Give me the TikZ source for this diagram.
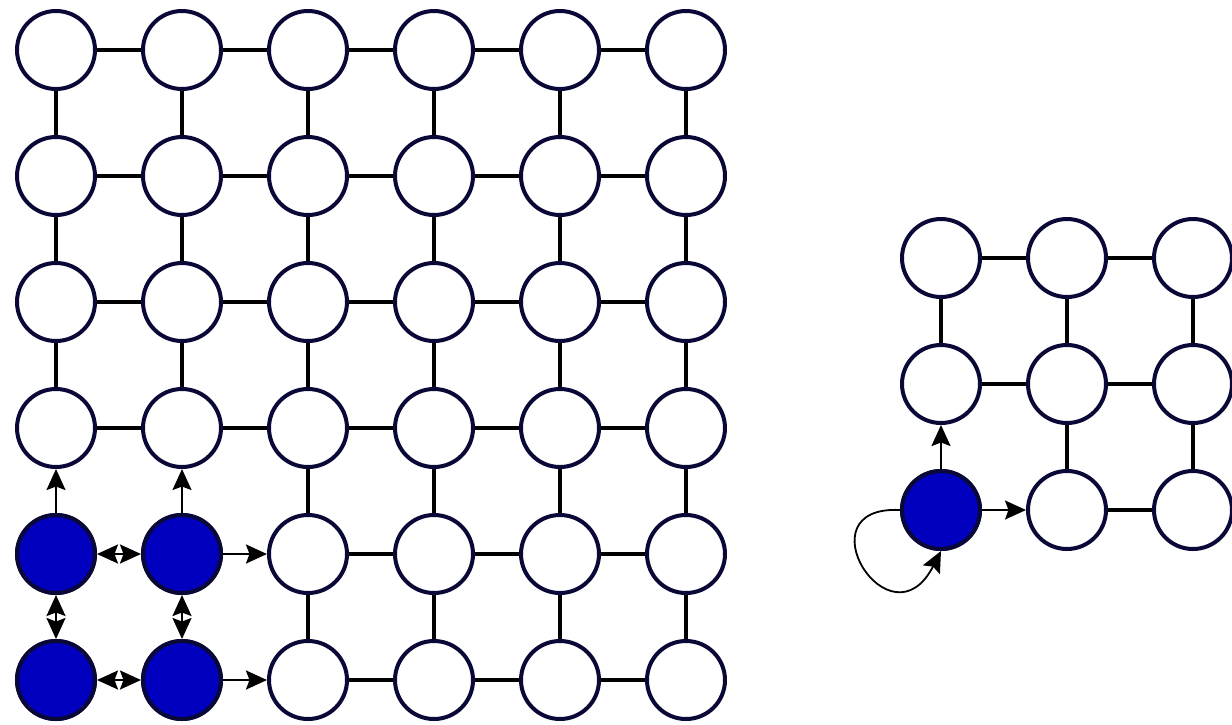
\documentclass[tikz,border=0pt]{standalone}
\usetikzlibrary{arrows.meta}
\definecolor{rim}{RGB}{10,8,55}
\definecolor{bluefill}{RGB}{0,0,190}
\tikzset{
  tip/.tip={Stealth[length=21pt,width=19pt,inset=3.5pt]},
  site/.style={circle,draw=rim,line width=4pt,fill=white,minimum size=78pt,inner sep=0pt},
  hot/.style={site,fill=bluefill},
  bond/.style={line width=3.4pt,black},
  flow/.style={line width=2.2pt,black,-tip},
  both/.style={line width=2.2pt,black,tip-tip},
  loopflow/.style={line width=1.8pt,black,-tip}
}
\begin{document}
\begin{tikzpicture}[x=1pt,y=-1pt]
\useasboundingbox (0,0) rectangle (1232,724);
% left grid nodes
\foreach \c in {0,...,5}{
  \foreach \r in {0,...,5}{
    \node[site] (L-\c-\r) at ({56+126*\c},{50+126*\r}) {};
  }
}
\node[hot] (L-0-4) at (56,554) {};
\node[hot] (L-1-4) at (182,554) {};
\node[hot] (L-0-5) at (56,680) {};
\node[hot] (L-1-5) at (182,680) {};
% left horizontal bonds
\foreach \r in {0,...,3}{
  \foreach \c [evaluate=\c as \n using int(\c+1)] in {0,...,4}{
    \draw[bond] (L-\c-\r) -- (L-\n-\r);
  }
}
\foreach \r in {4,5}{
  \foreach \c [evaluate=\c as \n using int(\c+1)] in {2,...,4}{
    \draw[bond] (L-\c-\r) -- (L-\n-\r);
  }
}
% left vertical bonds
\foreach \c in {0,...,5}{
  \foreach \r [evaluate=\r as \n using int(\r+1)] in {0,...,2}{
    \draw[bond] (L-\c-\r) -- (L-\c-\n);
  }
}
\foreach \c in {2,...,5}{
  \foreach \r [evaluate=\r as \n using int(\r+1)] in {3,4}{
    \draw[bond] (L-\c-\r) -- (L-\c-\n);
  }
}
% arrows left
\draw[flow] (L-0-4) -- (L-0-3);
\draw[flow] (L-1-4) -- (L-1-3);
\draw[flow] (L-1-4) -- (L-2-4);
\draw[flow] (L-1-5) -- (L-2-5);
\draw[both] (L-0-4) -- (L-1-4);
\draw[both] (L-0-5) -- (L-1-5);
\draw[both] (L-0-4) -- (L-0-5);
\draw[both] (L-1-4) -- (L-1-5);
% right grid
\foreach \c in {0,...,2}{
  \foreach \r in {0,...,2}{
    \node[site] (R-\c-\r) at ({941+126*\c},{258+126*\r}) {};
  }
}
\node[hot] (R-0-2) at (941,510) {};
\draw[bond] (R-0-0) -- (R-1-0);
\draw[bond] (R-1-0) -- (R-2-0);
\draw[bond] (R-0-1) -- (R-1-1);
\draw[bond] (R-1-1) -- (R-2-1);
\draw[bond] (R-1-2) -- (R-2-2);
\draw[bond] (R-0-0) -- (R-0-1);
\draw[bond] (R-1-0) -- (R-1-1);
\draw[bond] (R-1-1) -- (R-1-2);
\draw[bond] (R-2-0) -- (R-2-1);
\draw[bond] (R-2-1) -- (R-2-2);
\draw[flow] (R-0-2) -- (R-0-1);
\draw[flow] (R-0-2) -- (R-1-2);
\draw[loopflow] (R-0-2.west) .. controls (800,505) and (890,650) .. (R-0-2.south);
\end{tikzpicture}
\end{document}
